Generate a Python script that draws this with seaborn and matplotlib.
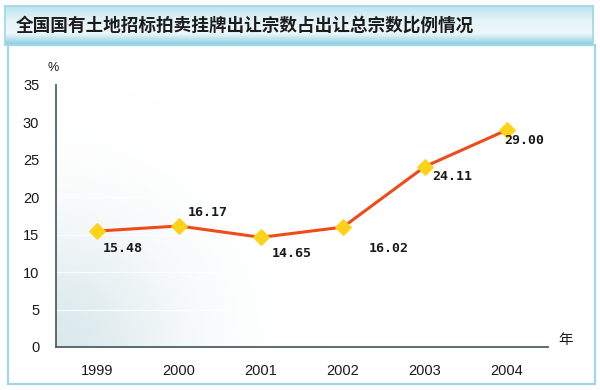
import numpy as np
import pandas as pd
import matplotlib
matplotlib.use("Agg")
import matplotlib.pyplot as plt
import seaborn as sns
from matplotlib.colors import LinearSegmentedColormap
from matplotlib.patches import Rectangle

years = ["1999", "2000", "2001", "2002", "2003", "2004"]
share = [15.48, 16.17, 14.65, 16.02, 24.11, 29.00]
value_labels = ["15.48", "16.17", "14.65", "16.02", "24.11", "29.00"]
y_ticks = [0, 5, 10, 15, 20, 25, 30, 35]
title = "全国国有土地招标拍卖挂牌出让宗数占出让总宗数比例情况"

# label offsets in pixels (dx, dy) from each point
label_offsets = [(6, -17), (9, 13), (11, -16), (26, -21), (7, -10), (-3, -11)]

sns.set_theme(style="white")
plt.rcParams["font.family"] = ["Liberation Sans", "Noto Sans CJK SC", "DejaVu Sans"]

df = pd.DataFrame({"year": years, "share": share})

fig = plt.figure(figsize=(6, 3.9), dpi=100)
W, H = 600, 390

def fx(px):
    return px / W

def fy(py):
    return 1 - py / H

# panel border
fig.patches.append(Rectangle((fx(8), fy(384)), fx(595) - fx(8), fy(45) - fy(384),
                             transform=fig.transFigure, fill=False,
                             edgecolor="#9fd6ea", linewidth=1.6, zorder=0))

# title bar with gradient
tax = fig.add_axes([fx(5), fy(45), fx(593) - fx(5), fy(6) - fy(45)])
tcmap = LinearSegmentedColormap.from_list(
    "tb", [(0, "#bfe4ef"), (0.35, "#e2f3f8"), (0.7, "#eef8fb"), (1.0, "#86cde0")])
grad = np.linspace(0, 1, 100).reshape(-1, 1)
tax.imshow(grad, aspect="auto", cmap=tcmap, extent=[0, 1, 0, 1], origin="upper")
tax.set_xticks([])
tax.set_yticks([])
for s in tax.spines.values():
    s.set_color("#9fd6ea")
    s.set_linewidth(1.2)
tax.text(0.018, 0.5, title, transform=tax.transAxes, ha="left", va="center",
         fontsize=12.7, fontweight="bold", color="#1c1c1c",
         family=["Noto Sans CJK SC", "DejaVu Sans"])

# main axes
ax = fig.add_axes([fx(56), fy(347), fx(548) - fx(56), fy(85) - fy(347)])
ax.set_facecolor("white")

# soft gradient in lower-left corner
gx, gy = np.meshgrid(np.linspace(0, 1, 300), np.linspace(0, 1, 300))
dist2 = (gx / 0.24) ** 2 + (gy / 0.45) ** 2
alpha = 0.7 * np.exp(-dist2)
img = np.zeros((300, 300, 4))
img[..., 0] = 0.80
img[..., 1] = 0.88
img[..., 2] = 0.90
img[..., 3] = alpha
ax.imshow(img, extent=[0, 1, 0, 1], origin="lower", transform=ax.transAxes,
          aspect="auto", zorder=0)

for t in y_ticks[1:]:
    ax.axhline(t, color="white", linewidth=0.9, alpha=0.8, zorder=0.5)

sns.lineplot(data=df, x="year", y="share", ax=ax, color="#f04a1a", linewidth=2.2,
             marker="D", markersize=8, markerfacecolor="#ffd21a",
             markeredgecolor="#ffd21a", zorder=3)

for i, (lab, (dx, dy)) in enumerate(zip(value_labels, label_offsets)):
    ax.annotate(lab, (i, share[i]), xytext=(dx, dy), textcoords="offset pixels",
                ha="left", va="center", fontsize=9.5, fontweight="bold",
                family="DejaVu Sans Mono", color="#1a1a1a", zorder=4)

ax.set_xlim(-0.5, len(years) - 0.5)
ax.set_ylim(0, 35)
ax.set_yticks(y_ticks)
ax.set_yticklabels([str(t) for t in y_ticks])
ax.set_xticks(range(len(years)))
ax.set_xticklabels(years)
ax.set_xticks([i + 0.5 for i in range(len(years))], minor=True)
ax.tick_params(axis="x", which="major", length=0, pad=12, labelsize=10.5, labelcolor="#1a1a1a")
ax.tick_params(axis="x", which="minor", direction="in", length=4, width=1.1, color="#4d6068")
ax.tick_params(axis="y", which="major", direction="in", length=4, width=1.1,
               color="#4d6068", pad=12, labelsize=10.5, labelcolor="#1a1a1a")
ax.set_xlabel("")
ax.set_ylabel("")
for side in ["top", "right"]:
    ax.spines[side].set_visible(False)
for side in ["left", "bottom"]:
    ax.spines[side].set_color("#4d6068")
    ax.spines[side].set_linewidth(1.3)

fig.text(fx(53), fy(68), "%", ha="center", va="center", fontsize=9, color="#1a1a1a")
fig.text(fx(566), fy(340), "年", ha="center", va="center", fontsize=10.5,
         color="#1a1a1a", family=["Noto Sans CJK SC", "DejaVu Sans"])

fig.savefig("out.png", dpi=100)
